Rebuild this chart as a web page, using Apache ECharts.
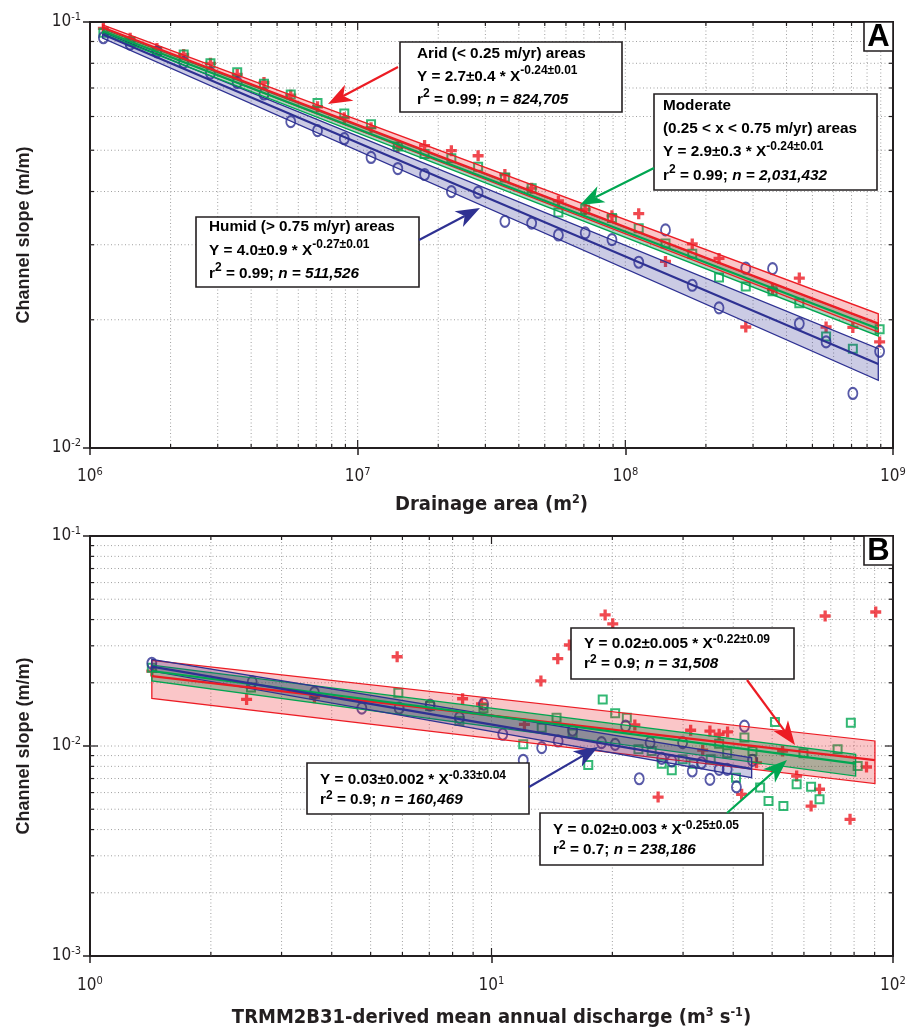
<!DOCTYPE html>
<html>
<head>
<meta charset="utf-8">
<title>Channel slope vs drainage area and discharge</title>
<script src="https://cdn.jsdelivr.net/npm/echarts@6.0.0/dist/echarts.min.js"></script>
<style>
  html, body { margin: 0; padding: 0; background: #fff; }
  #chart { width: 908px; height: 1027px; }
</style>
</head>
<body>
<div id="chart"></div>
<script>

// ---- panel A: 0.1-decade drainage-area bins
const areaBinsA = [6.05, 6.15, 6.25, 6.35, 6.45, 6.55, 6.65, 6.75, 6.85, 6.95,
                   7.05, 7.15, 7.25, 7.35, 7.45, 7.55, 7.65, 7.75, 7.85, 7.95,
                   8.05, 8.15, 8.25, 8.35, 8.45, 8.55, 8.65, 8.75, 8.85, 8.95];
const aridA = [-1.015, -1.038, -1.062, -1.076, -1.097, -1.123, -1.142, -1.172, -1.199, -1.225,
               -1.248, -1.294, -1.290, -1.302, -1.314, -1.358, -1.390, -1.420, -1.440, -1.455,
               -1.450, -1.562, -1.521, -1.555, -1.716, -1.628, -1.601, -1.716, -1.717, -1.751];
const moderateA = [-1.025, -1.045, -1.068, -1.076, -1.097, -1.118, -1.145, -1.170, -1.190, -1.215,
                   -1.240, -1.292, -1.310, -1.320, -1.340, -1.365, -1.390, -1.447, -1.440, -1.460,
                   -1.484, -1.520, -1.544, -1.600, -1.621, -1.632, -1.660, -1.738, -1.767, -1.721];
const humidA = [-1.037, -1.052, -1.070, -1.095, -1.120, -1.142, -1.169, -1.234, -1.255, -1.274,
                -1.318, -1.344, -1.358, -1.398, -1.400, -1.468, -1.472, -1.500, -1.495, -1.511,
                -1.564, -1.488, -1.618, -1.671, -1.578, -1.579, -1.708, -1.751, -1.872, -1.773];

// fit lines [log x, log y] at both ends, bands [log x, upper, lower]
const aridFitA = [[6.047, -1.013], [8.945, -1.708]];
const moderateFitA = [[6.047, -1.021], [8.945, -1.720]];
const humidFitA = [[6.047, -1.029], [8.945, -1.803]];
const aridBandA = [[6.047, -1.007, -1.020], [8.945, -1.685, -1.728]];
const moderateBandA = [[6.047, -1.016, -1.027], [8.945, -1.708, -1.737]];
const humidBandA = [[6.047, -1.023, -1.038], [8.945, -1.767, -1.841]];

// ---- panel B: [log10 discharge, log10 slope]
const aridB = [[0.154, -1.643], [0.390, -1.778], [0.559, -1.770], [0.765, -1.575], [0.928, -1.775],
  [0.975, -1.800], [1.082, -1.897], [1.123, -1.690], [1.165, -1.584], [1.194, -1.519], [1.283, -1.376],
  [1.302, -1.418], [1.357, -1.900], [1.415, -2.243], [1.496, -1.925], [1.526, -2.020], [1.544, -1.929],
  [1.567, -1.944], [1.588, -1.933], [1.623, -2.230], [1.660, -2.080], [1.725, -2.024], [1.760, -2.143],
  [1.796, -2.286], [1.817, -2.206], [1.831, -1.381], [1.893, -2.349], [1.934, -2.100], [1.957, -1.362]];
const moderateB = [[0.154, -1.627], [0.401, -1.722], [0.768, -1.746], [0.847, -1.810], [0.920, -1.881],
  [0.980, -1.820], [1.079, -1.992], [1.125, -1.913], [1.162, -1.865], [1.202, -1.940], [1.241, -2.090],
  [1.277, -1.779], [1.308, -1.844], [1.337, -1.865], [1.366, -2.016], [1.399, -2.024], [1.424, -2.084],
  [1.449, -2.116], [1.476, -2.063], [1.503, -2.084], [1.546, -2.063], [1.567, -1.989], [1.587, -2.035],
  [1.609, -2.151], [1.630, -1.960], [1.650, -2.024], [1.669, -2.198], [1.690, -2.262], [1.706, -1.886],
  [1.727, -2.286], [1.760, -2.182], [1.777, -2.035], [1.796, -2.194], [1.817, -2.254], [1.862, -2.016],
  [1.895, -1.889], [1.912, -2.095]];
const humidB = [[0.154, -1.606], [0.404, -1.695], [0.559, -1.746], [0.677, -1.820], [0.770, -1.820],
  [0.847, -1.805], [0.920, -1.865], [0.980, -1.801], [1.028, -1.944], [1.079, -2.068], [1.125, -2.008],
  [1.166, -1.976], [1.202, -1.925], [1.274, -1.984], [1.308, -1.992], [1.334, -1.905], [1.368, -2.156],
  [1.395, -1.984], [1.424, -2.059], [1.449, -2.071], [1.476, -1.984], [1.500, -2.119], [1.523, -2.080],
  [1.544, -2.159], [1.567, -2.111], [1.587, -2.111], [1.610, -2.195], [1.630, -1.905], [1.650, -2.068]];

const aridFitB = [[0.154, -1.667], [1.955, -2.067]];
const moderateFitB = [[0.154, -1.643], [1.907, -2.084]];
const humidFitB = [[0.154, -1.622], [1.648, -2.109]];
const aridBandB = [[0.154, -1.592, -1.773], [1.955, -1.976, -2.179]];
const moderateBandB = [[0.154, -1.615, -1.690], [1.907, -2.040, -2.143]];
const humidBandB = [[0.154, -1.587, -1.643], [1.648, -2.056, -2.151]];

// axis ranges and the 2..9 sub-decade grid
const xRangeA = [1e6, 1e9], yRangeA = [1e-2, 1e-1];
const xRangeB = [1, 100], yRangeB = [1e-3, 1e-1];
const xDecadesA = [1e6, 1e7, 1e8], yDecadesA = [1e-2];
const xDecadesB = [1, 10], yDecadesB = [1e-3, 1e-2];
const minorMult = [2, 3, 4, 5, 6, 7, 8, 9];

const RED = '#ec1c24', GREEN = '#00a651', NAVY = '#2e3192', INK = '#231f20';
const SANS = '"Liberation Sans", Arial, Helvetica, sans-serif';
const NARROW = '"Liberation Sans Narrow", "DejaVu Sans Condensed", "Liberation Sans", sans-serif';

const P10 = v => Math.pow(10, v);
const seg = (x1, y1, x2, y2, style) => ({ type: 'line', shape: { x1, y1, x2, y2 }, style });

function gridSeries(gi, xDec, yDec, xr, yr) {
  const data = [];
  xDec.forEach(d => {
    if (d > xr[0]) data.push([d, yr[0], 1]);
    minorMult.forEach(m => data.push([d * m, yr[0], 0]));
  });
  yDec.forEach(d => {
    if (d > yr[0]) data.push([xr[0], d, 3]);
    minorMult.forEach(m => data.push([xr[0], d * m, 2]));
  });
  return {
    type: 'custom', xAxisIndex: gi, yAxisIndex: gi, z: 1, silent: true, clip: false,
    data, encode: { x: 0, y: 1 },
    renderItem(params, api) {
      const kind = api.value(2);
      const dot = { stroke: '#a0a0a0', lineWidth: 1, lineDash: [1, 2.5] };
      const tk = { stroke: INK, lineWidth: 1.2 };
      const L = kind % 2 ? 8 : 4;
      const ch = [];
      if (kind < 2) {
        const a = api.coord([api.value(0), yr[0]]), b = api.coord([api.value(0), yr[1]]);
        ch.push(seg(a[0], a[1], b[0], b[1], dot));
        ch.push(seg(a[0], a[1], a[0], a[1] - L, tk));
        ch.push(seg(b[0], b[1], b[0], b[1] + L, tk));
      } else {
        const a = api.coord([xr[0], api.value(1)]), b = api.coord([xr[1], api.value(1)]);
        ch.push(seg(a[0], a[1], b[0], b[1], dot));
        ch.push(seg(a[0], a[1], a[0] + L, a[1], tk));
        ch.push(seg(b[0], b[1], b[0] - L, b[1], tk));
      }
      return { type: 'group', children: ch };
    }
  };
}

function bandSeries(gi, band, fill, stroke) {
  const d = band.map(p => [P10(p[0]), P10(p[1]), P10(p[2])]);
  return {
    type: 'custom', xAxisIndex: gi, yAxisIndex: gi, z: 3, silent: true,
    data: d, encode: { x: 0, y: [1, 2] },
    renderItem(params, api) {
      if (params.dataIndex !== 0) return null;
      const u0 = api.coord([d[0][0], d[0][1]]), u1 = api.coord([d[1][0], d[1][1]]);
      const l1 = api.coord([d[1][0], d[1][2]]), l0 = api.coord([d[0][0], d[0][2]]);
      return { type: 'polygon', shape: { points: [u0, u1, l1, l0] },
               style: { fill, stroke, lineWidth: 1.3 } };
    }
  };
}

function fitSeries(gi, fit, color) {
  return {
    type: 'line', xAxisIndex: gi, yAxisIndex: gi, z: 4, silent: true, symbol: 'none',
    data: fit.map(p => [P10(p[0]), P10(p[1])]), lineStyle: { color, width: 2.2 }
  };
}

const SYM_O = 'path://M0,5a5,5 0 1,0 10,0a5,5 0 1,0 -10,0';
const SYM_PLUS = 'path://M3.5,0H6.5V3.5H10V6.5H6.5V10H3.5V6.5H0V3.5H3.5Z';

function circles(gi, pts) {
  return { type: 'scatter', xAxisIndex: gi, yAxisIndex: gi, z: 2, silent: true,
    data: pts.map(p => [P10(p[0]), P10(p[1])]), symbol: SYM_O, symbolSize: [9, 11],
    itemStyle: { color: 'rgba(0,0,0,0)', borderColor: NAVY, borderWidth: 2 } };
}
function squares(gi, pts) {
  return { type: 'scatter', xAxisIndex: gi, yAxisIndex: gi, z: 2, silent: true,
    data: pts.map(p => [P10(p[0]), P10(p[1])]), symbol: 'rect', symbolSize: 8,
    itemStyle: { color: 'rgba(0,0,0,0)', borderColor: GREEN, borderWidth: 2 } };
}
function crosses(gi, pts) {
  return { type: 'scatter', xAxisIndex: gi, yAxisIndex: gi, z: 2, silent: true,
    data: pts.map(p => [P10(p[0]), P10(p[1])]), symbol: SYM_PLUS, symbolSize: 11,
    itemStyle: { color: RED } };
}
const binned = (bins, vals) => bins.map((b, i) => [b, vals[i]]);

const expLabel = v => '{b|10}{s|' + Math.round(Math.log10(v)) + '}';
const tickRich = {
  b: { fontFamily: NARROW, fontSize: 17, color: INK, lineHeight: 20 },
  s: { fontFamily: NARROW, fontSize: 11, color: INK, lineHeight: 11, verticalAlign: 'top' }
};
const nameRich = {
  t: { fontFamily: NARROW, fontWeight: 'bold', fontSize: 20, color: INK, lineHeight: 24 },
  s: { fontFamily: NARROW, fontWeight: 'bold', fontSize: 12.5, color: INK, lineHeight: 12, verticalAlign: 'top' }
};
const yNameRich = { t: { fontFamily: SANS, fontWeight: 'bold', fontSize: 18, color: INK } };

function logAxis(gi, range, isX, name, gap, margin) {
  return {
    type: 'log', logBase: 10, gridIndex: gi, min: range[0], max: range[1],
    axisLine: { show: false },
    axisTick: { show: true, inside: false, length: 7, lineStyle: { color: INK, width: 1.5 } },
    splitLine: { show: false },
    axisLabel: { formatter: expLabel, rich: tickRich, margin },
    name, nameLocation: 'middle', nameGap: gap,
    nameTextStyle: { rich: isX ? nameRich : yNameRich }
  };
}

// annotation boxes and arrows (pixel layout)
function note(box, tx, ty, lh, color, lines) {
  const base = { fontFamily: SANS, fontWeight: 'bold', fontSize: 15.3, color, lineHeight: lh };
  return [
    { type: 'rect', z: 20, shape: { x: box[0], y: box[1], width: box[2], height: box[3] },
      style: { fill: '#fff', stroke: INK, lineWidth: 1.6 } },
    { type: 'text', z: 21, x: tx, y: ty,
      style: { text: lines.join('\n'), align: 'left', verticalAlign: 'top',
        rich: { b: base, i: Object.assign({}, base, { fontStyle: 'italic' }),
                s: { fontFamily: SANS, fontWeight: 'bold', fontSize: 12, color, lineHeight: 11, verticalAlign: 'top' } } } }
  ];
}
function arrow(x1, y1, x2, y2, color) {
  const ang = Math.atan2(y2 - y1, x2 - x1), L = 24, W = 9;
  const c = Math.cos(ang), s = Math.sin(ang);
  const bx = x2 - c * L, by = y2 - s * L;
  const nx = x2 - c * L * 0.72, ny = y2 - s * L * 0.72;
  return [
    { type: 'line', z: 20, shape: { x1, y1, x2: nx, y2: ny }, style: { stroke: color, lineWidth: 2.2 } },
    { type: 'polygon', z: 20, shape: { points: [[x2, y2], [bx - s * W, by + c * W], [nx, ny], [bx + s * W, by - c * W]] },
      style: { fill: color } }
  ];
}
function letter(x, y, t) {
  return [
    { type: 'rect', z: 20, shape: { x, y, width: 29, height: 29 }, style: { fill: '#fff', stroke: INK, lineWidth: 1.6 } },
    { type: 'text', z: 21, x: x + 14.5, y: y + 15.5,
      style: { text: t, align: 'center', verticalAlign: 'middle', font: 'bold 31px ' + SANS, fill: '#000' } }
  ];
}

const graphic = [].concat(
  note([400, 42, 222, 70], 417, 42, 23, RED,
    ['{b|Arid (< 0.25 m/yr) areas}', '{b|Y = 2.7±0.4 * X}{s|-0.24±0.01}', '{b|r}{s|2}{b| = 0.99; }{i|n = 824,705}']),
  arrow(398, 67, 328, 104, RED),
  note([654, 94, 223, 96], 663, 94, 23.3, GREEN,
    ['{b|Moderate}', '{b|(0.25 < x < 0.75 m/yr) areas}', '{b|Y = 2.9±0.3 * X}{s|-0.24±0.01}', '{b|r}{s|2}{b| = 0.99; }{i|n = 2,031,432}']),
  arrow(654, 168, 580, 205, GREEN),
  note([196, 217, 223, 70], 209, 215.5, 23.3, NAVY,
    ['{b|Humid (> 0.75 m/yr) areas}', '{b|Y = 4.0±0.9 * X}{s|-0.27±0.01}', '{b|r}{s|2}{b| = 0.99; }{i|n = 511,526}']),
  arrow(419, 240, 480, 208, NAVY),
  letter(864, 22, 'A'),
  note([571, 628, 223, 51], 584, 634, 20, RED,
    ['{b|Y = 0.02±0.005 * X}{s|-0.22±0.09}', '{b|r}{s|2}{b| = 0.9; }{i|n = 31,508}']),
  arrow(747, 680, 795, 745, RED),
  note([307, 763, 222, 51], 320, 770, 20, NAVY,
    ['{b|Y = 0.03±0.002 * X}{s|-0.33±0.04}', '{b|r}{s|2}{b| = 0.9; }{i|n = 160,469}']),
  arrow(529, 787, 598, 747, NAVY),
  note([540, 813, 223, 52], 553, 820, 20, GREEN,
    ['{b|Y = 0.02±0.003 * X}{s|-0.25±0.05}', '{b|r}{s|2}{b| = 0.7; }{i|n = 238,186}']),
  arrow(727, 813, 787, 760, GREEN),
  letter(864, 536, 'B')
);

const chart = echarts.init(document.getElementById('chart'));
chart.setOption({
  animation: false,
  backgroundColor: '#fff',
  grid: [
    { left: 90, right: 15, top: 22, bottom: 579, show: true, borderColor: INK, borderWidth: 2,
      backgroundColor: 'rgba(0,0,0,0)', outerBoundsMode: 'none' },
    { left: 90, right: 15, top: 536, bottom: 71, show: true, borderColor: INK, borderWidth: 2,
      backgroundColor: 'rgba(0,0,0,0)', outerBoundsMode: 'none' }
  ],
  xAxis: [
    logAxis(0, xRangeA, true, '{t|Drainage area (m}{s|2}{t|)}', 45, 19),
    logAxis(1, xRangeB, true, '{t|TRMM2B31-derived mean annual discharge (m}{s|3}{t| s}{s|-1}{t|)}', 50, 20)
  ],
  yAxis: [
    logAxis(0, yRangeA, false, '{t|Channel slope (m/m)}', 57, 9),
    logAxis(1, yRangeB, false, '{t|Channel slope (m/m)}', 57, 9)
  ],
  graphic,
  series: [
    gridSeries(0, xDecadesA, yDecadesA, xRangeA, yRangeA),
    gridSeries(1, xDecadesB, yDecadesB, xRangeB, yRangeB),
    crosses(0, binned(areaBinsA, aridA)),
    squares(0, binned(areaBinsA, moderateA)),
    circles(0, binned(areaBinsA, humidA)),
    bandSeries(0, humidBandA, 'rgba(46,49,146,0.25)', NAVY),
    bandSeries(0, moderateBandA, 'rgba(0,110,50,0.30)', GREEN),
    bandSeries(0, aridBandA, 'rgba(236,28,36,0.25)', RED),
    fitSeries(0, humidFitA, NAVY),
    fitSeries(0, moderateFitA, GREEN),
    fitSeries(0, aridFitA, RED),
    crosses(1, aridB),
    squares(1, moderateB),
    circles(1, humidB),
    bandSeries(1, aridBandB, 'rgba(236,28,36,0.25)', RED),
    bandSeries(1, moderateBandB, 'rgba(0,110,50,0.30)', GREEN),
    bandSeries(1, humidBandB, 'rgba(46,49,146,0.25)', NAVY),
    fitSeries(1, aridFitB, RED),
    fitSeries(1, moderateFitB, GREEN),
    fitSeries(1, humidFitB, NAVY)
  ]
});
</script>
</body>
</html>
